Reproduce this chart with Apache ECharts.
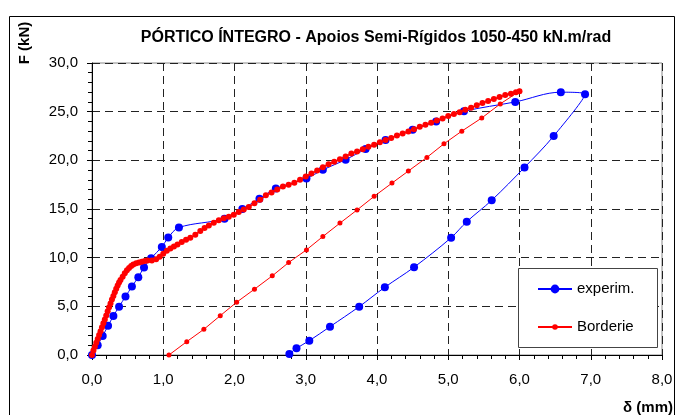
<!DOCTYPE html>
<html>
<head>
<meta charset="utf-8">
<script src="https://cdn.jsdelivr.net/npm/echarts@6/dist/echarts.min.js"></script>
<style>
html,body{margin:0;padding:0;background:#fff;}
#chart{width:676px;height:415px;}
</style>
</head>
<body>
<div id="chart"></div>
<script>
// ---- data ----
var titleText = 'PÓRTICO ÍNTEGRO - Apoios Semi-Rígidos 1050-450 kN.m/rad';
var xAxisName = 'δ (mm)';
var yAxisName = 'F (kN)';
var seriesNames = ['experim.', 'Borderie'];

var experimX = [0, 0.08, 0.15, 0.225, 0.30, 0.38, 0.47, 0.56, 0.65, 0.73, 0.83, 0.98, 1.07, 1.22, 1.86, 2.11, 2.35, 2.58, 3.01, 3.24, 3.56, 3.84, 4.12, 4.50, 4.83, 5.22, 5.94, 6.58, 6.92, 6.48, 6.07, 5.61, 5.26, 5.04, 4.52, 4.11, 3.75, 3.34, 3.05, 2.87, 2.77];
var experimY = [0, 1.0, 1.95, 3.0, 4.0, 4.97, 6.0, 7.03, 8.0, 9.0, 9.95, 11.1, 12.07, 13.1, 14.0, 15.0, 16.05, 17.1, 18.14, 19.03, 20.06, 21.16, 22.1, 23.15, 24.0, 25.03, 26.0, 27.0, 26.8, 22.5, 19.27, 15.9, 13.7, 12.05, 9.02, 6.96, 4.97, 2.91, 1.47, 0.69, 0.1];

// Borderie: loading branch
var borderieLoadX = [0.00, 0.02, 0.04, 0.06, 0.08, 0.10, 0.12, 0.14, 0.16, 0.18, 0.20, 0.22, 0.24, 0.26, 0.28, 0.30, 0.32, 0.34, 0.36, 0.38, 0.40, 0.43, 0.46, 0.49, 0.52, 0.55, 0.58, 0.62, 0.66, 0.70, 0.74, 0.78, 0.84, 0.90, 0.95, 1.00, 1.05, 1.10, 1.15, 1.20, 1.26, 1.32, 1.38, 1.45, 1.52, 1.58, 1.64, 1.71, 1.78, 1.85, 1.92, 1.99, 2.06, 2.13, 2.20, 2.28, 2.36, 2.44, 2.52, 2.60, 2.68, 2.76, 2.84, 2.92, 3.00, 3.08, 3.16, 3.24, 3.32, 3.40, 3.48, 3.56, 3.64, 3.72, 3.80, 3.88, 3.96, 4.04, 4.12, 4.20, 4.28, 4.36, 4.44, 4.52, 4.60, 4.68, 4.76, 4.84, 4.92, 5.00, 5.08, 5.16, 5.24, 5.32, 5.40, 5.48, 5.56, 5.64, 5.72, 5.80, 5.88, 5.95, 6.00];
var borderieLoadY = [0.00, 0.45, 0.85, 1.25, 1.65, 2.05, 2.45, 2.85, 3.25, 3.65, 4.05, 4.50, 4.90, 5.30, 5.70, 6.05, 6.45, 6.80, 7.15, 7.45, 7.70, 8.05, 8.40, 8.70, 8.95, 9.15, 9.30, 9.42, 9.50, 9.58, 9.65, 9.72, 9.70, 9.85, 10.10, 10.40, 10.70, 10.95, 11.15, 11.35, 11.60, 11.85, 12.05, 12.35, 12.75, 13.05, 13.30, 13.60, 13.85, 14.05, 14.20, 14.40, 14.70, 14.95, 15.20, 15.60, 15.95, 16.40, 16.70, 17.00, 17.30, 17.50, 17.70, 18.00, 18.35, 18.65, 18.95, 19.30, 19.60, 19.85, 20.10, 20.40, 20.70, 20.90, 21.15, 21.40, 21.60, 21.85, 22.10, 22.30, 22.55, 22.75, 22.95, 23.20, 23.45, 23.65, 23.85, 24.10, 24.30, 24.55, 24.75, 24.95, 25.20, 25.40, 25.65, 25.90, 26.10, 26.30, 26.50, 26.70, 26.85, 27.00, 27.10];
// Borderie: unloading branch (starts at the peak)
var borderieUnloadX = [6.00, 5.73, 5.47, 5.19, 4.94, 4.70, 4.44, 4.21, 3.96, 3.72, 3.48, 3.24, 3.01, 2.76, 2.53, 2.28, 2.03, 1.80, 1.57, 1.33, 1.08];
var borderieUnloadY = [27.10, 25.8, 24.35, 23.0, 21.7, 20.3, 18.9, 17.66, 16.3, 14.9, 13.55, 12.17, 10.8, 9.5, 8.13, 6.76, 5.42, 4.04, 2.64, 1.37, 0.0];

var xTicks = {min: 0, max: 8, interval: 1};
var yTicks = {min: 0, max: 30, interval: 5};

function pairs(xs, ys) { return xs.map(function (x, i) { return [x, ys[i]]; }); }
function fmt(v) { return v.toFixed(1).replace('.', ','); }

var FONT = '"Liberation Sans", Arial, sans-serif';
var BLUE = '#0000ff', RED = '#ff0000';
var chart = echarts.init(document.getElementById('chart'), null, {renderer: 'canvas'});

function legendCfg(name, top, h) {
  return {
    show: true, orient: 'vertical', left: 537, top: top, padding: 0, z: 60,
    itemWidth: 34, itemHeight: h, itemGap: 0,
    textStyle: {fontFamily: FONT, fontSize: 15, color: '#000', lineHeight: 18, padding: [0, 0, 0, 0]},
    data: [{name: name}]
  };
}

var option = {
  animation: false,
  backgroundColor: '#fff',
  grid: {left: 92, right: 14, top: 63, bottom: 60, show: true, borderColor: '#888', borderWidth: 1, backgroundColor: 'transparent'},
  xAxis: {
    type: 'value', min: xTicks.min, max: xTicks.max, interval: xTicks.interval,
    axisLine: {onZero: false, lineStyle: {color: '#000', width: 1}},
    axisTick: {show: true, inside: false, length: 5, lineStyle: {color: '#000'}},
    minorTick: {show: true, splitNumber: 5, length: 4, lineStyle: {color: '#000'}},
    splitLine: {show: true, lineStyle: {color: '#222', type: [8, 5], width: 1}},
    axisLabel: {formatter: fmt, fontFamily: FONT, fontSize: 15, color: '#000', margin: 17}
  },
  yAxis: {
    type: 'value', min: yTicks.min, max: yTicks.max, interval: yTicks.interval,
    axisLine: {show: true, onZero: false, lineStyle: {color: '#000', width: 1}},
    axisTick: {show: true, inside: false, length: 5, lineStyle: {color: '#000'}},
    minorTick: {show: true, splitNumber: 5, length: 4, lineStyle: {color: '#000'}},
    splitLine: {show: true, lineStyle: {color: '#222', type: [8, 5], width: 1}},
    axisLabel: {formatter: fmt, fontFamily: FONT, fontSize: 15, color: '#000', margin: 14}
  },
  legend: [legendCfg(seriesNames[0], 280, 11), legendCfg(seriesNames[1], 318, 7)],
  graphic: [
    {type: 'rect', shape: {x: 9.5, y: 16.5, width: 665, height: 420}, style: {fill: 'none', stroke: '#000', lineWidth: 1}, silent: true, z: 100},
    {type: 'rect', shape: {x: 518.5, y: 268.5, width: 139, height: 79}, style: {fill: '#fff', stroke: '#444', lineWidth: 1}, silent: true, z: 50},
    {type: 'text', x: 376, y: 38, style: {text: titleText, font: 'bold 16px ' + FONT, fill: '#000', align: 'center', verticalAlign: 'middle'}},
    {type: 'text', x: 25, y: 43, rotation: Math.PI / 2, style: {text: yAxisName, font: 'bold 15px ' + FONT, fill: '#000', align: 'center', verticalAlign: 'middle'}},
    {type: 'text', x: 673, y: 408, style: {text: xAxisName, font: 'bold 15px ' + FONT, fill: '#000', align: 'right', verticalAlign: 'middle'}}
  ],
  series: [
    {
      name: seriesNames[0], type: 'line', data: pairs(experimX, experimY),
      smooth: 0.35, symbol: 'circle', symbolSize: 8, showAllSymbol: true,
      lineStyle: {color: BLUE, width: 1}, itemStyle: {color: BLUE}, z: 2
    },
    {
      name: seriesNames[1], type: 'line', data: pairs(borderieLoadX, borderieLoadY),
      smooth: false, symbol: 'circle', symbolSize: 6, showAllSymbol: true,
      lineStyle: {color: RED, width: 1.5}, itemStyle: {color: RED}, z: 3
    },
    {
      name: seriesNames[1], type: 'line', data: pairs(borderieUnloadX, borderieUnloadY),
      smooth: false, symbol: 'circle', symbolSize: 5, showAllSymbol: true,
      lineStyle: {color: RED, width: 1}, itemStyle: {color: RED}, z: 3
    }
  ]
};
chart.setOption(option);
</script>
</body>
</html>
